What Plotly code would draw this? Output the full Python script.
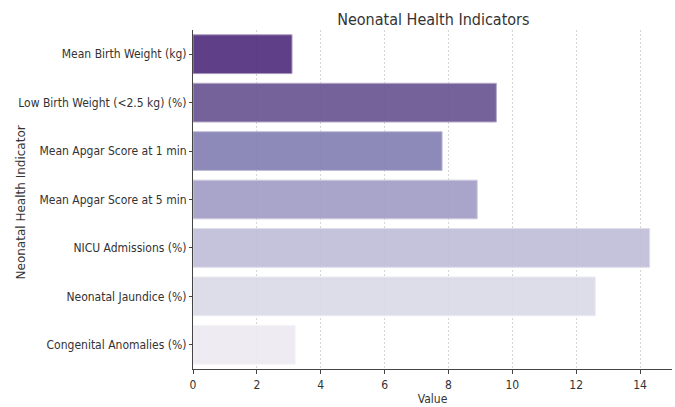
import plotly.graph_objects as go

# Indicators and their values
indicators = [
    "Mean Birth Weight (kg)",
    "Low Birth Weight (<2.5 kg) (%)",
    "Mean Apgar Score at 1 min",
    "Mean Apgar Score at 5 min",
    "NICU Admissions (%)",
    "Neonatal Jaundice (%)",
    "Congenital Anomalies (%)",
]
values = [3.1, 9.5, 7.8, 8.9, 14.3, 12.6, 3.2]

# Reversed purple palette, one shade per indicator
bar_colors = ["#53317e", "#6c5794", "#8581b3", "#a39ec5", "#c0bfd9", "#dbdbe8", "#eeeaf3"]
x_ticks = [0, 2, 4, 6, 8, 10, 12, 14]


def lighten(hex_color, amount=0.45):
    h = hex_color.lstrip("#")
    r, g, b = (int(h[i:i + 2], 16) for i in (0, 2, 4))
    r, g, b = (int(c + (255 - c) * amount) for c in (r, g, b))
    return f"rgb({r},{g},{b})"


edge_colors = [lighten(c) for c in bar_colors]

fig = go.Figure(
    go.Bar(
        x=values,
        y=indicators,
        orientation="h",
        width=0.8,
        marker=dict(color=bar_colors, line=dict(color=edge_colors, width=1)),
        opacity=0.93,
        hoverinfo="x+y",
    )
)

font_main = "DejaVu Sans Condensed, DejaVu Sans, sans-serif"
text_color = "#333333"

fig.update_layout(
    width=675,
    height=407,
    margin=dict(l=193, r=3, t=30, b=34),
    paper_bgcolor="white",
    plot_bgcolor="white",
    showlegend=False,
    title=dict(
        text="Neonatal Health Indicators",
        x=0.642,
        xanchor="center",
        y=0.953,
        yanchor="middle",
        font=dict(family=font_main, size=16, color=text_color),
    ),
    xaxis=dict(
        range=[0, 15.0],
        tickvals=x_ticks,
        ticktext=[str(t) for t in x_ticks],
        showgrid=True,
        gridcolor="#d4d4d4",
        griddash="2px,2px",
        gridwidth=0.8,
        zeroline=False,
        showline=True,
        linecolor="#444444",
        linewidth=1.2,
        ticks="outside",
        ticklen=4,
        tickcolor="#444444",
        tickfont=dict(family=font_main, size=12, color=text_color),
        title=dict(text="Value", standoff=4,
                   font=dict(family=font_main, size=12, color=text_color)),
    ),
    yaxis=dict(
        categoryorder="array",
        categoryarray=indicators,
        autorange=False,
        range=[6.5, -0.5],
        showgrid=False,
        zeroline=False,
        showline=True,
        linecolor="#444444",
        linewidth=1.2,
        ticks="outside",
        ticklen=3,
        tickcolor="#444444",
        tickfont=dict(family=font_main, size=12, color=text_color),
    ),
    annotations=[
        dict(
            text="Neonatal Health Indicator",
            xref="paper", yref="paper",
            x=-0.36, y=0.49,
            xanchor="center", yanchor="middle",
            textangle=-90,
            showarrow=False,
            font=dict(family="DejaVu Sans, sans-serif", size=12, color=text_color),
        )
    ],
)

fig.write_html("out.html")
